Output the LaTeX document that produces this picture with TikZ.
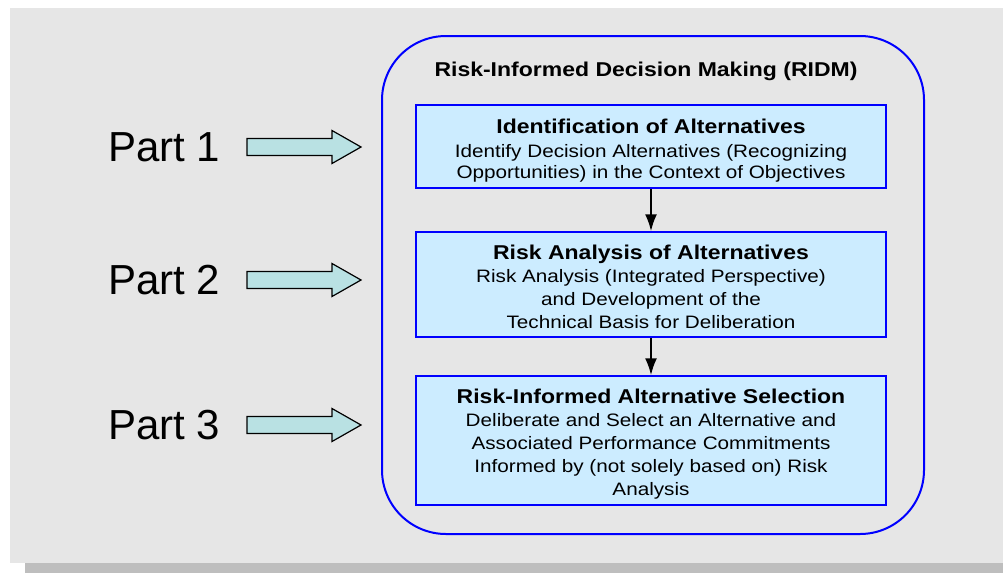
\documentclass[tikz,border=0pt]{standalone}
\usepackage{fontspec}
\setmainfont{Liberation Sans}
\newfontfamily\widesans[FakeStretch=1.15]{Liberation Sans}
\usetikzlibrary{arrows.meta,positioning}

\definecolor{bggray}{HTML}{E6E6E6}
\definecolor{shadowgray}{HTML}{BEBEBE}
\definecolor{boxblue}{HTML}{CCECFF}
\definecolor{arrowteal}{HTML}{B9E1E3}

\tikzset{
  stepbox/.style={draw=blue, fill=boxblue, line width=1.5pt, minimum width=470pt, align=center, inner sep=0pt},
  steptext/.style={align=center, font=\widesans\fontsize{18}{23}\selectfont},
  parttext/.style={anchor=west, inner sep=0pt, font=\fontsize{42}{48}\selectfont},
  partarrow/.style={draw=black, fill=arrowteal, line width=1.2pt, line join=miter},
  flow/.style={line width=2pt, -{Latex[length=17pt,width=12pt]}}
}

\begin{document}
\begin{tikzpicture}[x=1pt,y=-1pt]
\useasboundingbox (0,0) rectangle (1003,573);
\fill[shadowgray] (25,563) rectangle (1003,573);
\fill[bggray] (10,8) rectangle (1003,563);

\node[draw=blue, line width=2pt, rounded corners=64pt, minimum width=542pt, minimum height=498pt] (ridm) at (653,285) {};
\node[anchor=base, inner sep=0pt, font=\widesans\fontsize{20}{24}\selectfont\bfseries] (ridmtitle) at (646,76) {Risk-Informed Decision Making (RIDM)};

\node[stepbox, minimum height=83pt] (ident) at (651,146.5) {};
\node[steptext, font=\widesans\fontsize{18}{20.5}\selectfont] (identtxt) at ([yshift=-4pt]ident.center)
  {{\fontsize{20}{24}\selectfont\bfseries Identification of Alternatives}\\[4pt]
   Identify Decision Alternatives (Recognizing\\ Opportunities) in the Context of Objectives};

\node[stepbox, minimum height=105pt] (riskan) at (651,284.5) {};
\node[steptext] (riskantxt) at ([yshift=-2pt]riskan.center)
  {{\fontsize{20}{22}\selectfont\bfseries Risk Analysis of Alternatives}\\
   Risk Analysis (Integrated Perspective)\\ and Development of the\\ Technical Basis for Deliberation};

\node[stepbox, minimum height=129pt] (select) at (651,440.5) {};
\node[steptext] (selecttxt) at ([yshift=-4pt]select.center)
  {{\fontsize{20}{22}\selectfont\bfseries Risk-Informed Alternative Selection}\\
   Deliberate and Select an Alternative and\\ Associated Performance Commitments\\
   Informed by (not solely based on) Risk\\ Analysis};

\draw[flow] (ident) -- (riskan);
\draw[flow] (riskan) -- (select);

% parts
\foreach \n/\y in {1/147,2/280,3/425}{
  \node[parttext] (part\n) at (108,\y) {Part \n};
  \draw[partarrow] (247,\y-8.5) -- (332,\y-8.5) -- (332,\y-16.5) -- (361,\y)
    -- (332,\y+16.5) -- (332,\y+8.5) -- (247,\y+8.5) -- cycle;
}
\end{tikzpicture}
\end{document}
